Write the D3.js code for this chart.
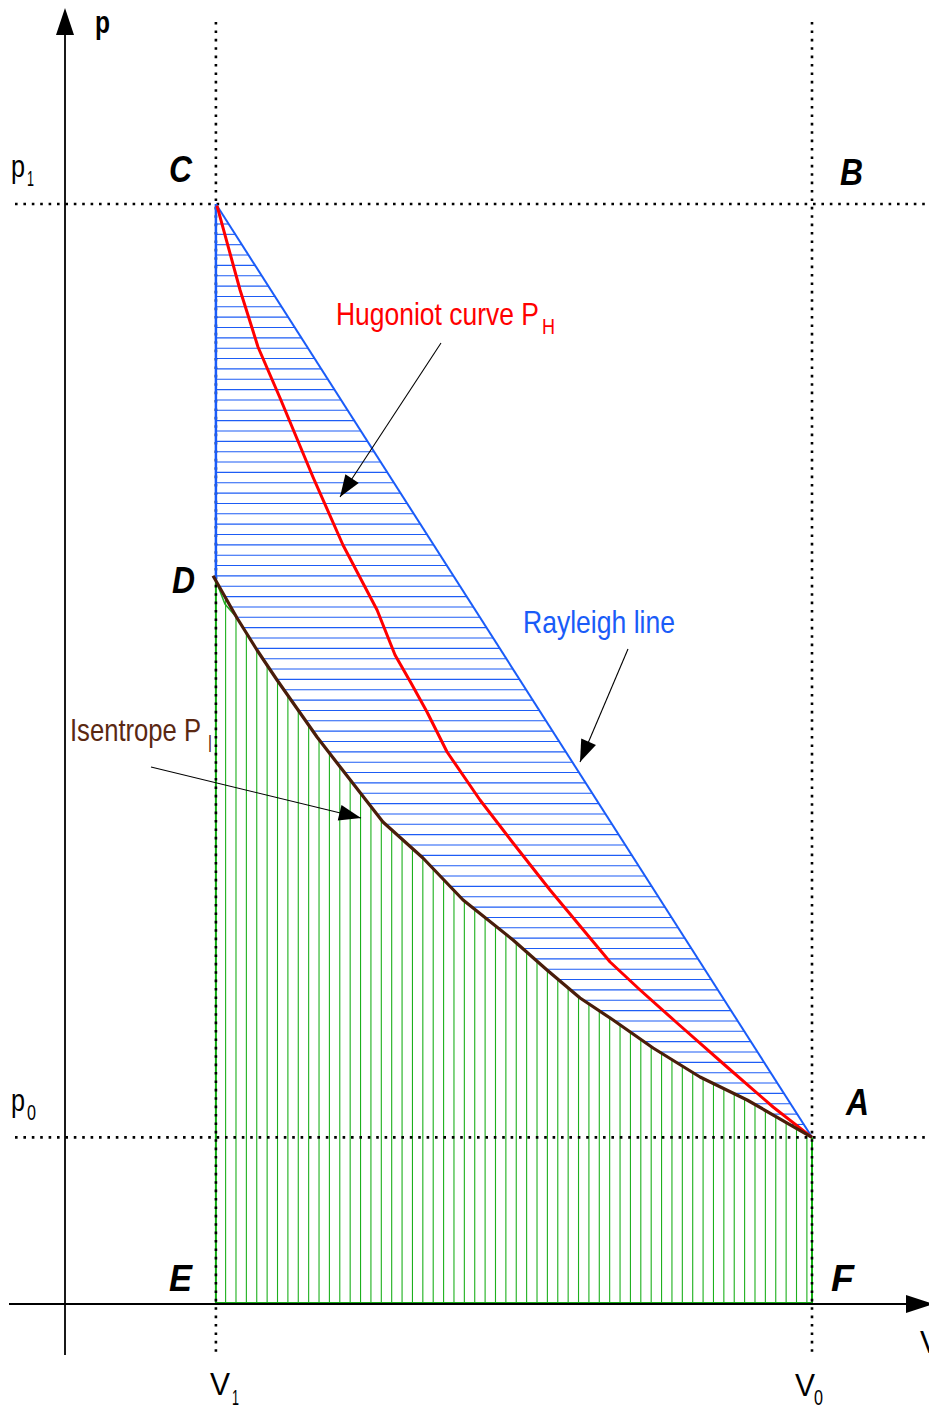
<!DOCTYPE html>
<html><head><meta charset="utf-8">
<script src="https://cdn.jsdelivr.net/npm/d3@7"></script>
<style>html,body{margin:0;padding:0;background:#fff;}svg{display:block;}</style>
</head><body>
<script>
// ---- data (p–V diagram) ----
const V1 = 1.0, V0 = 4.95;          // specific volumes
const p0 = 1.0, p1 = 6.6;           // pressures
const pD = 4.34;                    // isentrope pressure at V1 (point D)
const rayleighV = [V1, V0];
const rayleighP = [p1, p0];
const hugoniotV = [1.007,1.160,1.279,1.425,1.643,1.842,2.068,2.187,2.293,2.399,2.532,2.750,2.969,3.214,3.612,3.811,4.056,4.387,4.692,4.950];
const hugoniotP = [6.59,6.084,5.742,5.436,4.962,4.554,4.164,3.894,3.726,3.552,3.312,3.024,2.766,2.484,2.052,1.884,1.686,1.422,1.182,1.0];
const isentropeV = [0.981,1.140,1.272,1.405,1.670,1.803,2.107,2.372,2.638,2.969,3.194,3.413,3.632,3.897,4.208,4.520,4.950];
const isentropeP = [4.37,4.116,3.924,3.744,3.402,3.246,2.892,2.676,2.424,2.184,2.004,1.836,1.704,1.536,1.362,1.224,1.0];
const pointLabels = ["C","B","D","A","E","F"];
const pointV = [V1, V0, V1, V0, V1, V0];
const pointP = [p1, p1, pD, p0, 0, 0];

const W = 929, H = 1405;
const x = d3.scaleLinear().domain([0, V0]).range([65, 812]);
const y = d3.scaleLinear().domain([0, p1]).range([1304, 204]);

const svg = d3.select("body").append("svg").attr("width", W).attr("height", H);
const FONT = "'Liberation Sans','Arial',sans-serif";

// interpolation helpers
function isenP(V){
  for (let i=0;i<isentropeV.length-1;i++){
    if (V>=isentropeV[i] && V<=isentropeV[i+1]){
      const t=(V-isentropeV[i])/(isentropeV[i+1]-isentropeV[i]);
      return isentropeP[i]+t*(isentropeP[i+1]-isentropeP[i]);
    }
  }
  return V<isentropeV[0]?isentropeP[0]:isentropeP[isentropeP.length-1];
}
function isenV(p){
  for (let i=0;i<isentropeP.length-1;i++){
    if (p<=isentropeP[i] && p>=isentropeP[i+1]){
      const t=(isentropeP[i]-p)/(isentropeP[i]-isentropeP[i+1]);
      return isentropeV[i]+t*(isentropeV[i+1]-isentropeV[i]);
    }
  }
  return p>isentropeP[0]?isentropeV[0]:isentropeV[isentropeV.length-1];
}
function rayV(p){ return rayleighV[0] + (rayleighP[0]-p)/(rayleighP[0]-rayleighP[1])*(rayleighV[1]-rayleighV[0]); }

// ---- green vertical hatch under isentrope ----
const gH = svg.append("g").attr("stroke","#1cb01c").attr("stroke-width",1.1);
d3.range(x(V1)+9.7, x(V0)-0.5, 10.38).forEach(px=>{
  const V = x.invert(px);
  gH.append("line").attr("x1",px).attr("x2",px).attr("y1",y(isenP(V))).attr("y2",y(0));
});
// green borders
svg.append("line").attr("x1",x(V1)).attr("x2",x(V1)).attr("y1",y(pD)).attr("y2",y(0)).attr("stroke","#11aa11").attr("stroke-width",2);
svg.append("line").attr("x1",x(V0)).attr("x2",x(V0)).attr("y1",y(p0)).attr("y2",y(0)).attr("stroke","#11aa11").attr("stroke-width",2);
svg.append("line").attr("x1",x(V1)).attr("x2",x(V0)).attr("y1",y(0)-1).attr("y2",y(0)-1).attr("stroke","#11aa11").attr("stroke-width",2);
svg.append("path")
  .attr("d", d3.line().x(d=>x(d[0])).y(d=>y(d[1]))([[V1,pD],[1.06,4.2],[1.14,4.116]]))
  .attr("fill","none").attr("stroke","#22aa22").attr("stroke-width",1.5);

// ---- blue horizontal hatch between Rayleigh line and C-D / isentrope ----
const bH = svg.append("g").attr("stroke","#1d5cf5").attr("stroke-width",1.1);
d3.range(224, y(p0)-2, 10.35).forEach(py=>{
  const p = y.invert(py);
  const left = p >= pD ? V1 : Math.max(V1, isenV(p));
  const right = rayV(p);
  if (right > left) bH.append("line").attr("x1",x(left)).attr("x2",x(right)).attr("y1",py).attr("y2",py);
});

// ---- dotted guide lines ----
const dots = svg.append("g").attr("stroke","#000").attr("stroke-width",2.6).attr("stroke-dasharray","2.6 5.8");
dots.append("line").attr("x1",x(V1)).attr("x2",x(V1)).attr("y1",22).attr("y2",1356);
dots.append("line").attr("x1",x(V0)).attr("x2",x(V0)).attr("y1",22).attr("y2",1356);
dots.append("line").attr("x1",15).attr("x2",W).attr("y1",y(p1)).attr("y2",y(p1));
dots.append("line").attr("x1",15).attr("x2",W).attr("y1",y(p0)).attr("y2",y(p0));

// ---- Rayleigh line and C-D segment ----
svg.append("line").attr("x1",x(rayleighV[0])).attr("y1",y(rayleighP[0])).attr("x2",x(rayleighV[1])).attr("y2",y(rayleighP[1]))
  .attr("stroke","#1a5cf8").attr("stroke-width",2);
svg.append("line").attr("x1",x(V1)).attr("y1",y(p1)).attr("x2",x(V1)).attr("y2",y(pD))
  .attr("stroke","#1a5cf8").attr("stroke-width",2.5);

// ---- Hugoniot curve ----
const line = d3.line().x(d=>x(d[0])).y(d=>y(d[1]));
svg.append("path").attr("d", line(hugoniotV.map((v,i)=>[v,hugoniotP[i]])))
  .attr("fill","none").attr("stroke","#ff0000").attr("stroke-width",3).attr("stroke-linejoin","round");
// ---- Isentrope ----
svg.append("path").attr("d", line(isentropeV.map((v,i)=>[v,isentropeP[i]])))
  .attr("fill","none").attr("stroke","#4a1d0a").attr("stroke-width",3.2).attr("stroke-linejoin","round");

// ---- axes ----
const ax = svg.append("g").attr("stroke","#000").attr("stroke-width",1.8);
ax.append("line").attr("x1",x(0)).attr("x2",x(0)).attr("y1",32).attr("y2",1355);
ax.append("line").attr("x1",9).attr("x2",908).attr("y1",y(0)).attr("y2",y(0));
svg.append("path").attr("d",`M${x(0)},8 L${x(0)+9},35 L${x(0)-9},35 Z`).attr("fill","#000");
svg.append("path").attr("d",`M934,${y(0)} L906,${y(0)-9} L906,${y(0)+9} Z`).attr("fill","#000");

// ---- annotation arrows ----
function arrow(x1,y1,x2,y2){
  svg.append("line").attr("x1",x1).attr("y1",y1).attr("x2",x2).attr("y2",y2).attr("stroke","#000").attr("stroke-width",1.1);
  const a=Math.atan2(y2-y1,x2-x1), L=22, w=8;
  const bx=x2-L*Math.cos(a), by=y2-L*Math.sin(a);
  const nx=-Math.sin(a)*w, ny=Math.cos(a)*w;
  svg.append("path").attr("d",`M${x2},${y2} L${bx+nx},${by+ny} L${bx-nx},${by-ny} Z`).attr("fill","#000");
}
arrow(441,343,340,497);
arrow(628,649,580,762);
arrow(151,767,361,818);

// ---- text ----
function txt(s,px,py,size,opts={}){
  const t = svg.append("text").attr("x",px).attr("y",py).attr("font-family",FONT).attr("font-size",size)
    .attr("font-weight",opts.bold?"bold":"normal").attr("font-style",opts.italic?"italic":"normal")
    .attr("fill",opts.fill||"#000").text(s);
  if (opts.w) t.attr("textLength",opts.w).attr("lengthAdjust","spacingAndGlyphs");
  return t;
}
txt("p",95,33,32,{bold:true,w:15});
txt("p",11,177,32,{w:14}); txt("1",27,186,22,{w:7});
txt("p",11,1111,32,{w:14}); txt("0",27,1120,22,{w:9});
txt("V",210,1395,32,{w:20}); txt("1",232,1405,22,{w:7});
txt("V",795,1396,32,{w:20}); txt("0",814,1405,22,{w:9});
txt("V",920,1353,32,{w:20});

const lblPos = {C:[169,182],B:[840,185],D:[172,593],A:[846,1115],E:[169,1291],F:[831,1291]};
pointLabels.forEach((l,i)=>{ txt(l,lblPos[l][0],lblPos[l][1],36,{bold:true,italic:true,w:23}); });

txt("Hugoniot curve P",336,325,32,{fill:"#ff0000",w:203}); txt("H",542,334,22,{fill:"#ff0000",w:13});
txt("Rayleigh line",523,633,32,{fill:"#1a5cf8",w:152});
txt("Isentrope P",70,741,32,{fill:"#5a2812",w:131}); txt("I",208,752,23,{fill:"#5a2812",w:4});
</script>
</body></html>
